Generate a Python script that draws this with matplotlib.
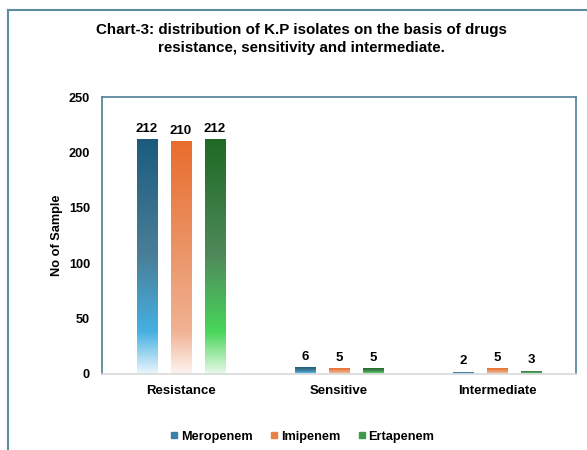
import numpy as np
import matplotlib
matplotlib.use("Agg")
import matplotlib.pyplot as plt
from matplotlib.colors import LinearSegmentedColormap
from matplotlib.lines import Line2D

plt.rcParams['font.family'] = ['Liberation Sans', 'DejaVu Sans']

categories = ["Resistance", "Sensitive", "Intermediate"]
drugs = ["Meropenem", "Imipenem", "Ertapenem"]
meropenem = [212, 6, 2]
imipenem = [210, 5, 5]
ertapenem = [212, 5, 3]
series = [meropenem, imipenem, ertapenem]

# bottom -> top colour stops for each drug's gradient fill
stops = [
    ["#eaf5fc", "#45b0e2", "#4a7f99", "#1c5b7d"],
    ["#fdf4f0", "#f1b394", "#eb976a", "#e86d2c"],
    ["#e8f9e8", "#48d65a", "#4f8a5a", "#1e6a24"],
]
legend_colors = ["#3a7fa8", "#e8804a", "#3c9a4a"]

fig = plt.figure(figsize=(5.87, 4.5), dpi=100)
ax = fig.add_axes([0.1738, 0.1689, 0.8075, 0.6155])

x = np.arange(len(categories))
width = 0.127
offsets = [-0.215, 0.0, 0.215]

grad = np.linspace(1, 0, 256).reshape(-1, 1)
for vals, off, st in zip(series, offsets, stops):
    cmap = LinearSegmentedColormap.from_list(
        "g", list(zip([0.0, 0.18, 0.5, 1.0], st)))
    bars = ax.bar(x + off, vals, width, color="none", edgecolor="none")
    for b, v in zip(bars, vals):
        x0 = b.get_x()
        im = ax.imshow(grad, cmap=cmap, aspect="auto", origin="upper",
                       extent=[x0, x0 + width, 0, v], zorder=2)
        im.set_clip_path(b)
        ax.text(x0 + width / 2, v + 4, str(v), ha="center", va="bottom",
                fontsize=9.5, fontweight="bold")

ax.set_xlim(-0.5, 2.5)
ax.set_ylim(0, 250)
ax.set_yticks([0, 50, 100, 150, 200, 250])
ax.set_xticks(x)
ax.set_xticklabels(categories)
ax.tick_params(length=0)
ax.tick_params(axis="y", pad=8.6, labelsize=9.2)
ax.tick_params(axis="x", pad=8, labelsize=9.5)
for lbl in ax.get_xticklabels() + ax.get_yticklabels():
    lbl.set_fontweight("bold")
ax.set_ylabel("No of Sample", fontsize=9.2, fontweight="bold", labelpad=4)

for s in ["left", "top", "right"]:
    ax.spines[s].set_color("#4f7f95")
    ax.spines[s].set_linewidth(1.2)
ax.spines["bottom"].set_color("#d9d9d9")
ax.spines["bottom"].set_linewidth(1.2)

fig.text(0.514, 0.913, "Chart-3: distribution of K.P isolates on the basis of drugs\n"
         "resistance, sensitivity and intermediate.",
         ha="center", va="center", fontsize=10.9, fontweight="bold",
         linespacing=1.42)

handles = [Line2D([0], [0], marker="s", linestyle="none", markersize=5,
                  markerfacecolor=c, markeredgecolor=c) for c in legend_colors]
fig.legend(handles, drugs, loc="center", bbox_to_anchor=(0.516, 0.029),
           ncol=3, frameon=False, handlelength=0.5, handletextpad=0.3,
           columnspacing=1.4, prop={"weight": "bold", "size": 9.2})

# outer chart frame
fig.add_artist(Line2D([8 / 587, 1.0], [1 - 10 / 450, 1 - 10 / 450],
                      transform=fig.transFigure, color="#5b8ca0", lw=1.5))
fig.add_artist(Line2D([8 / 587, 8 / 587], [0.0, 1 - 10 / 450],
                      transform=fig.transFigure, color="#5b8ca0", lw=1.5))

fig.savefig("out.png", dpi=100)
